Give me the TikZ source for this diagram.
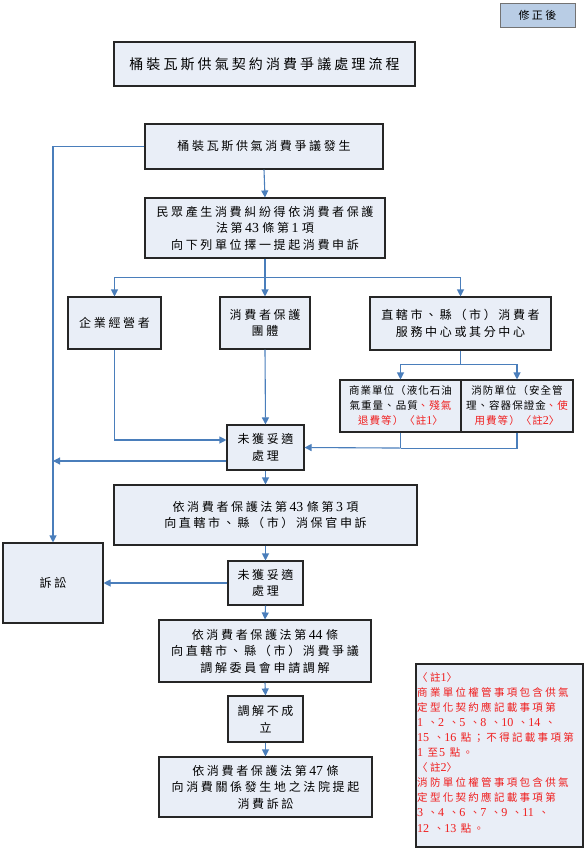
\documentclass[tikz,border=0pt]{standalone}
\usepackage{fontspec}
\setmainfont{Liberation Serif}
\newfontfamily\cjk[LetterSpace=22]{Noto Sans CJK TC}
\newfontfamily\cjkn[LetterSpace=10]{Noto Sans CJK TC}
\newfontfamily\lat[Scale=1.15]{Liberation Serif}
\newcommand{\dg}[1]{\hspace{2.5pt}{\lat #1}\hspace{3.5pt}}
\newcommand{\nd}[1]{{\lat #1}\hspace{4.5pt}}
\usetikzlibrary{arrows.meta,calc}
\definecolor{boxfill}{HTML}{E9EEF7}
\definecolor{revfill}{HTML}{B9CDE5}
\definecolor{arrowblue}{HTML}{4A7EBB}
\definecolor{notered}{HTML}{F01E1E}
\begin{document}
\begin{tikzpicture}[x=1pt,y=-1pt,
  box/.style={draw=black!85, line width=1.1pt, fill=boxfill, inner sep=0pt, align=center,
    font=\cjk\fontsize{12}{16.5}\selectfont},
  smallbox/.style={box, font=\cjkn\fontsize{10.5}{15}\selectfont},
  arr/.style={draw=arrowblue, line width=1.1pt, -{Triangle[length=7pt,width=7pt]}},
  ln/.style={draw=arrowblue, line width=1.1pt}]
\useasboundingbox (0,0) rectangle (585,849);

% revision tag
\node[draw=black!55, line width=0.8pt, fill=revfill, minimum width=75pt, minimum height=24pt,
  inner sep=0pt, font=\cjk\fontsize{11}{13}\selectfont] (rev) at (537.5,15) {修正後};

% title
\node[box, minimum width=301pt, minimum height=44pt, font=\cjk\fontsize{14}{17}\selectfont]
  (title) at (264.5,64) {桶裝瓦斯供氣契約消費爭議處理流程};

\node[box, minimum width=238pt, minimum height=45pt] (A) at (264,146.5) {桶裝瓦斯供氣消費爭議發生};
\node[box, minimum width=240pt, minimum height=60pt] (B) at (265,228)
  {民眾產生消費糾紛得依消費者保護\\法第\dg{43}條第\dg{1}項\\向下列單位擇一提起消費申訴};
\node[box, minimum width=93pt, minimum height=52pt] (C) at (114.5,323) {企業經營者};
\node[box, minimum width=90pt, minimum height=52pt] (D) at (265,323) {消費者保護\\團體};
\node[box, minimum width=181pt, minimum height=53pt] (E) at (460.5,323.5)
  {直轄市、縣（市）消費者\\服務中心或其分中心};
\node[smallbox, minimum width=121pt, minimum height=52pt] (F) at (400.5,406)
  {商業單位（液化石油\\氣重量、品質\textcolor{notered}{、殘氣}\\\textcolor{notered}{退費等）〈註{\lat 1}〉}};
\node[smallbox, minimum width=112pt, minimum height=52pt] (G) at (517,406)
  {消防單位（安全管\\理、容器保證金\textcolor{notered}{、使}\\\textcolor{notered}{用費等）〈註{\lat 2}〉}};
\node[box, minimum width=77pt, minimum height=45pt] (H) at (265.5,447.5) {未獲妥適\\處理};
\node[box, minimum width=303pt, minimum height=60pt] (I) at (265.5,515)
  {依消費者保護法第\dg{43}條第\dg{3}項\\向直轄市、縣（市）消保官申訴};
\node[box, minimum width=100pt, minimum height=80pt] (J) at (53,583) {訴訟};
\node[box, minimum width=75pt, minimum height=44pt] (K) at (265.5,583) {未獲妥適\\處理};
\node[box, minimum width=212pt, minimum height=62pt] (L) at (265,651)
  {依消費者保護法第\dg{44}條\\向直轄市、縣（市）消費爭議\\調解委員會申請調解};
\node[box, minimum width=75pt, minimum height=46pt] (M) at (265.5,719) {調解不成\\立};
\node[box, minimum width=213pt, minimum height=60pt] (N) at (265.5,787)
  {依消費者保護法第\dg{47}條\\向消費關係發生地之法院提起\\消費訴訟};

% notes
\node[box, minimum width=167pt, minimum height=183pt] (note) at (499.5,755.5) {};
\node[anchor=north west, inner sep=0pt, align=left, text=notered,
  font=\cjk\fontsize{10.5}{15.1}\selectfont] (notetext) at (417,672)
  {〈註{\lat 1}〉\\
   商業單位權管事項包含供氣\\
   定型化契約應記載事項第\\
   \nd{1}、\nd{2}、\nd{5}、\nd{8}、\nd{10}、\nd{14}、\\
   \nd{15}、\nd{16}點；不得記載事項第\\
   \nd{1}至\hspace{1pt}\nd{5}點。\\
   〈註{\lat 2}〉\\
   消防單位權管事項包含供氣\\
   定型化契約應記載事項第\\
   \nd{3}、\nd{4}、\nd{6}、\nd{7}、\nd{9}、\nd{11}、\\
   \nd{12}、\nd{13}點。};

% connectors
\draw[arr] (A.south) -- (B.north);
\coordinate (br) at (265,277.5);
\draw[ln] (B.south) -- (br);
\draw[arr] (br) -| (C.north);
\draw[arr] (br) -- (D.north);
\draw[arr] (br) -| (E.north);
\draw[ln] (E.south) -- ++(0,14) coordinate (br2);
\draw[arr] (br2) -| (F.north);
\draw[arr] (br2) -| (G.north);
\draw[ln] (F.south) -- ++(0,15.5) coordinate (fg);
\draw[ln] (G.south) |- (fg);
\draw[arr] (fg) -- (H.east);
\draw[arr] (C.south) |- ($(H.west)+(0,-7.5)$);
\draw[arr] (D.south) -- (H.north);
\draw[arr] (A.west) -| (J.north);
\coordinate (hw) at ($(H.west)+(0,13.5)$);
\draw[arr] (hw) -- (hw -| J.north);
\draw[arr] (H.south) -- (I.north);
\draw[arr] (I.south) -- (K.north);
\draw[arr] (K.west) -- (J.east);
\draw[arr] (K.south) -- (L.north);
\draw[arr] (L.south) -- (M.north);
\draw[arr] (M.south) -- (N.north);
\end{tikzpicture}
\end{document}
